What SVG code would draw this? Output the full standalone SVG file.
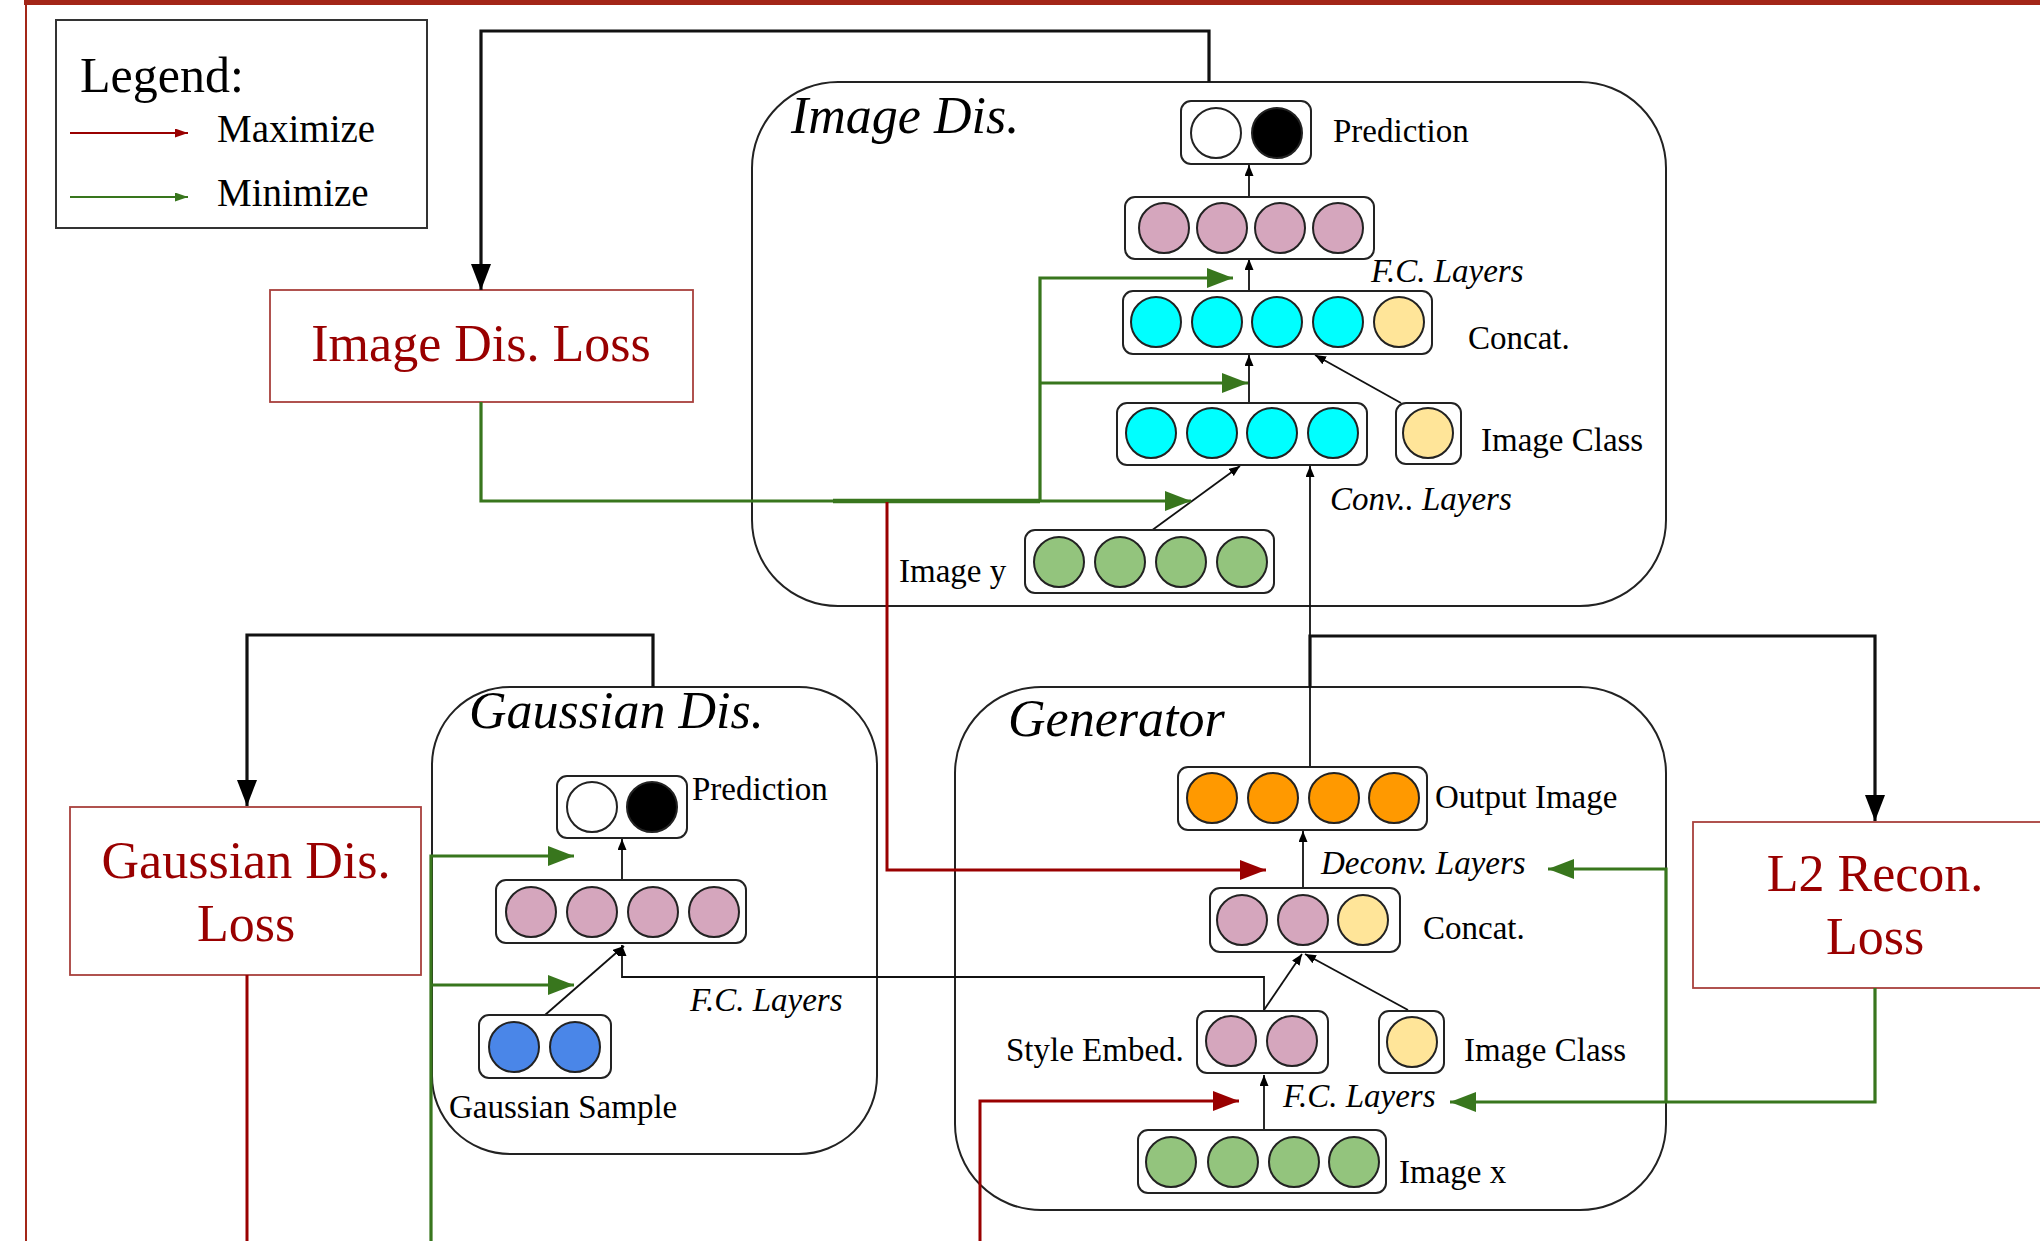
<svg xmlns="http://www.w3.org/2000/svg" width="2040" height="1241" viewBox="0 0 2040 1241">
<defs>
<style>
text{font-family:"Liberation Serif","Times New Roman",serif;fill:#000}
.lbl{font-size:33px}
.it{font-style:italic}
.title{font-size:52px;font-style:italic}
.loss{font-size:52px;fill:#990000}
.cont{fill:#fff;stroke:#222;stroke-width:2}
.nb{fill:#fff;stroke:#222;stroke-width:2}
.c{stroke:#222;stroke-width:2}
.lossbox{fill:#fff;stroke:#a8403c;stroke-width:1.8}
.thin{fill:none;stroke:#111;stroke-width:1.8}
.blk{fill:none;stroke:#111;stroke-width:3.2}
.grn{fill:none;stroke:#38761d;stroke-width:3.2}
.red{fill:none;stroke:#990000;stroke-width:3}
.pink{fill:#d5a6bd}.cyan{fill:#00ffff}.yel{fill:#ffe599}.gr{fill:#93c47d}.org{fill:#ff9900}.blu{fill:#4a86e8}.wh{fill:#fff}.bk{fill:#000}
</style>
<marker id="mBlk" markerUnits="userSpaceOnUse" markerWidth="26" markerHeight="20" refX="26" refY="10" orient="auto"><path d="M0,0L26,10L0,20z" fill="#000"/></marker>
<marker id="mGrn" markerUnits="userSpaceOnUse" markerWidth="26" markerHeight="20" refX="26" refY="10" orient="auto"><path d="M0,0L26,10L0,20z" fill="#38761d"/></marker>
<marker id="mRed" markerUnits="userSpaceOnUse" markerWidth="26" markerHeight="20" refX="26" refY="10" orient="auto"><path d="M0,0L26,10L0,20z" fill="#990000"/></marker>
<marker id="mSm" markerUnits="userSpaceOnUse" markerWidth="11" markerHeight="9" refX="11" refY="4.5" orient="auto"><path d="M0,0L11,4.5L0,9z" fill="#000"/></marker>
<marker id="mLR" markerUnits="userSpaceOnUse" markerWidth="13" markerHeight="9" refX="13" refY="4.5" orient="auto"><path d="M0,0L13,4.5L0,9z" fill="#990000"/></marker>
<marker id="mLG" markerUnits="userSpaceOnUse" markerWidth="13" markerHeight="9" refX="13" refY="4.5" orient="auto"><path d="M0,0L13,4.5L0,9z" fill="#38761d"/></marker>
</defs>
<rect width="2040" height="1241" fill="#fff"/>
<!-- frame -->
<rect x="24" y="0" width="2016" height="5" fill="#a32618"/>
<line x1="26" y1="0" x2="26" y2="1241" stroke="#a32618" stroke-width="2"/>

<g id="legend">
<rect x="56" y="20" width="371" height="208" fill="#fff" stroke="#333" stroke-width="2"/>
<text x="80" y="92" style="font-size:50px">Legend:</text>
<line x1="70" y1="133" x2="188" y2="133" stroke="#990000" stroke-width="2" marker-end="url(#mLR)"/>
<text x="217" y="142" style="font-size:39px">Maximize</text>
<line x1="70" y1="197" x2="188" y2="197" stroke="#38761d" stroke-width="2" marker-end="url(#mLG)"/>
<text x="217" y="206" style="font-size:39px">Minimize</text>
</g>

<!-- containers -->
<g id="image-dis">
<rect class="cont" x="752" y="82" width="914" height="524" rx="86" ry="86"/>
<text class="title" x="791" y="133">Image Dis.</text>
</g>
<g id="gaussian-dis">
<rect class="cont" x="432" y="687" width="445" height="467" rx="78" ry="78"/>
<text class="title" x="469" y="728">Gaussian Dis.</text>
</g>
<g id="generator">
<rect class="cont" x="955" y="687" width="711" height="523" rx="86" ry="86"/>
<text class="title" x="1008" y="736">Generator</text>
</g>

<!-- loss boxes -->
<g id="image-dis-loss">
<rect class="lossbox" x="270" y="290" width="423" height="112"/>
<text class="loss" x="481" y="361" text-anchor="middle">Image Dis. Loss</text>
</g>
<g id="gaussian-dis-loss">
<rect class="lossbox" x="70" y="807" width="351" height="168"/>
<text class="loss" x="246" y="878" text-anchor="middle">Gaussian Dis.</text>
<text class="loss" x="246" y="941" text-anchor="middle">Loss</text>
</g>
<g id="l2-loss">
<rect class="lossbox" x="1693" y="822" width="360" height="166"/>
<text class="loss" x="1875" y="891" text-anchor="middle">L2 Recon.</text>
<text class="loss" x="1875" y="954" text-anchor="middle">Loss</text>
</g>

<!-- connectors -->
<g id="connectors">
<!-- black thick -->
<path class="blk" d="M1209,82V31H481V290" marker-end="url(#mBlk)"/>
<path class="blk" d="M653,687V635H247V806" marker-end="url(#mBlk)"/>
<path class="blk" d="M1310,687V636H1875V821" marker-end="url(#mBlk)"/>
<!-- thin black internal arrows: image dis -->
<line class="thin" x1="1249" y1="196" x2="1249" y2="165" marker-end="url(#mSm)"/>
<line class="thin" x1="1249" y1="291" x2="1249" y2="259" marker-end="url(#mSm)"/>
<line class="thin" x1="1249" y1="403" x2="1249" y2="355" marker-end="url(#mSm)"/>
<line class="thin" x1="1401" y1="403" x2="1315" y2="355" marker-end="url(#mSm)"/>
<line class="thin" x1="1151" y1="531" x2="1240" y2="466" marker-end="url(#mSm)"/>
<line class="thin" x1="1310" y1="767" x2="1310" y2="466" marker-end="url(#mSm)"/>
<!-- gaussian dis -->
<line class="thin" x1="622" y1="880" x2="622" y2="839" marker-end="url(#mSm)"/>
<line class="thin" x1="545" y1="1015" x2="624" y2="946" marker-end="url(#mSm)"/>
<path class="thin" d="M1264,1010V977H622V945" marker-end="url(#mSm)"/>
<!-- generator -->
<line class="thin" x1="1303" y1="888" x2="1303" y2="831" marker-end="url(#mSm)"/>
<line class="thin" x1="1264" y1="1010" x2="1302" y2="954" marker-end="url(#mSm)"/>
<line class="thin" x1="1408" y1="1010" x2="1305" y2="954" marker-end="url(#mSm)"/>
<line class="thin" x1="1264" y1="1130" x2="1264" y2="1075" marker-end="url(#mSm)"/>
<!-- green -->
<path class="grn" d="M481,402V501H1191" marker-end="url(#mGrn)"/>
<line x1="833" y1="501" x2="1040" y2="501" stroke="#38761d" stroke-width="4.5"/>
<path class="grn" d="M1040,501V278H1233" marker-end="url(#mGrn)"/>
<path class="grn" d="M1040,383H1248" marker-end="url(#mGrn)"/>
<path class="grn" d="M431,1241V856H574" marker-end="url(#mGrn)"/>
<path class="grn" d="M431,985H574" marker-end="url(#mGrn)"/>
<path class="grn" d="M1875,988V1102H1450" marker-end="url(#mGrn)"/>
<path class="grn" d="M1666,1102V869H1548" marker-end="url(#mGrn)"/>
<!-- red -->
<path class="red" d="M887,502V870H1266" marker-end="url(#mRed)"/>
<path class="red" d="M980,1241V1101H1239" marker-end="url(#mRed)"/>
<path class="red" d="M247,975V1241"/>
</g>

<!-- nodes: image dis -->
<g id="idis-prediction">
<rect class="nb" x="1181" y="101" width="130" height="63" rx="10"/>
<circle class="c wh" cx="1216" cy="133" r="25"/>
<circle class="c bk" cx="1277" cy="133" r="25"/>
<text class="lbl" x="1333" y="142">Prediction</text>
</g>
<g id="idis-fc">
<rect class="nb" x="1125" y="197" width="249" height="62" rx="10"/>
<circle class="c pink" cx="1164" cy="228" r="25"/>
<circle class="c pink" cx="1222" cy="228" r="25"/>
<circle class="c pink" cx="1280" cy="228" r="25"/>
<circle class="c pink" cx="1338" cy="228" r="25"/>
<text class="lbl it" x="1371" y="282">F.C. Layers</text>
</g>
<g id="idis-concat">
<rect class="nb" x="1123" y="291" width="309" height="63" rx="10"/>
<circle class="c cyan" cx="1156" cy="322" r="25"/>
<circle class="c cyan" cx="1217" cy="322" r="25"/>
<circle class="c cyan" cx="1277" cy="322" r="25"/>
<circle class="c cyan" cx="1338" cy="322" r="25"/>
<circle class="c yel" cx="1399" cy="322" r="25"/>
<text class="lbl" x="1468" y="349">Concat.</text>
</g>
<g id="idis-conv">
<rect class="nb" x="1117" y="403" width="250" height="62" rx="10"/>
<circle class="c cyan" cx="1151" cy="433" r="25"/>
<circle class="c cyan" cx="1212" cy="433" r="25"/>
<circle class="c cyan" cx="1272" cy="433" r="25"/>
<circle class="c cyan" cx="1333" cy="433" r="25"/>
<text class="lbl it" x="1330" y="510">Conv.. Layers</text>
</g>
<g id="idis-class">
<rect class="nb" x="1396" y="403" width="65" height="61" rx="10"/>
<circle class="c yel" cx="1428" cy="433" r="25"/>
<text class="lbl" x="1481" y="451">Image Class</text>
</g>
<g id="idis-imagey">
<rect class="nb" x="1025" y="530" width="249" height="63" rx="10"/>
<circle class="c gr" cx="1059" cy="562" r="25"/>
<circle class="c gr" cx="1120" cy="562" r="25"/>
<circle class="c gr" cx="1181" cy="562" r="25"/>
<circle class="c gr" cx="1242" cy="562" r="25"/>
<text class="lbl" x="899" y="582">Image y</text>
</g>

<!-- nodes: gaussian dis -->
<g id="gdis-prediction">
<rect class="nb" x="557" y="776" width="130" height="62" rx="10"/>
<circle class="c wh" cx="592" cy="807" r="25"/>
<circle class="c bk" cx="652" cy="807" r="25"/>
<text class="lbl" x="692" y="800">Prediction</text>
</g>
<g id="gdis-fc">
<rect class="nb" x="496" y="880" width="250" height="63" rx="10"/>
<circle class="c pink" cx="531" cy="912" r="25"/>
<circle class="c pink" cx="592" cy="912" r="25"/>
<circle class="c pink" cx="653" cy="912" r="25"/>
<circle class="c pink" cx="714" cy="912" r="25"/>
<text class="lbl it" x="690" y="1011">F.C. Layers</text>
</g>
<g id="gdis-sample">
<rect class="nb" x="479" y="1015" width="132" height="63" rx="10"/>
<circle class="c blu" cx="514" cy="1047" r="25"/>
<circle class="c blu" cx="575" cy="1047" r="25"/>
<text class="lbl" x="449" y="1118">Gaussian Sample</text>
</g>

<!-- nodes: generator -->
<g id="gen-output">
<rect class="nb" x="1178" y="767" width="249" height="63" rx="10"/>
<circle class="c org" cx="1212" cy="798" r="25"/>
<circle class="c org" cx="1273" cy="798" r="25"/>
<circle class="c org" cx="1334" cy="798" r="25"/>
<circle class="c org" cx="1394" cy="798" r="25"/>
<text class="lbl" x="1435" y="808">Output Image</text>
<text class="lbl it" x="1321" y="874">Deconv. Layers</text>
</g>
<g id="gen-concat">
<rect class="nb" x="1210" y="888" width="190" height="64" rx="10"/>
<circle class="c pink" cx="1242" cy="920" r="25"/>
<circle class="c pink" cx="1303" cy="920" r="25"/>
<circle class="c yel" cx="1363" cy="920" r="25"/>
<text class="lbl" x="1423" y="939">Concat.</text>
</g>
<g id="gen-style">
<rect class="nb" x="1197" y="1011" width="131" height="62" rx="10"/>
<circle class="c pink" cx="1231" cy="1041" r="25"/>
<circle class="c pink" cx="1292" cy="1041" r="25"/>
<text class="lbl" x="1006" y="1061">Style Embed.</text>
</g>
<g id="gen-class">
<rect class="nb" x="1379" y="1011" width="65" height="62" rx="10"/>
<circle class="c yel" cx="1412" cy="1042" r="25"/>
<text class="lbl" x="1464" y="1061">Image Class</text>
</g>
<g id="gen-imagex">
<rect class="nb" x="1138" y="1130" width="248" height="63" rx="10"/>
<circle class="c gr" cx="1171" cy="1162" r="25"/>
<circle class="c gr" cx="1233" cy="1162" r="25"/>
<circle class="c gr" cx="1294" cy="1162" r="25"/>
<circle class="c gr" cx="1354" cy="1162" r="25"/>
<text class="lbl it" x="1283" y="1107">F.C. Layers</text>
<text class="lbl" x="1399" y="1183">Image x</text>
</g>
</svg>
